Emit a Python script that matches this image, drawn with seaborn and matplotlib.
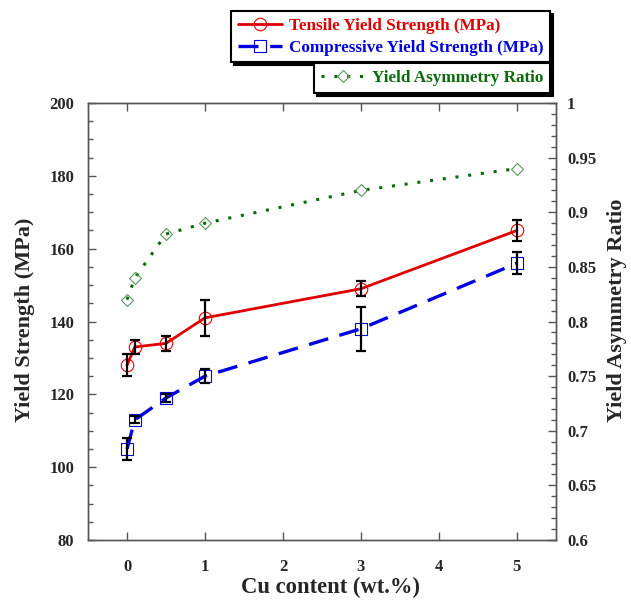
import numpy as np
import pandas as pd
import matplotlib
matplotlib.use("Agg")
import matplotlib.pyplot as plt
import seaborn as sns
from matplotlib.lines import Line2D
from matplotlib.ticker import MultipleLocator

cu = [0, 0.1, 0.5, 1, 3, 5]
tensile = [128, 133, 134, 141, 149, 165]
tensile_err = [3, 2, 2, 5, 2, 3]
compressive = [105, 113, 119, 125, 138, 156]
compressive_err = [3, 1, 1, 2, 6, 3]
ratio = [0.82, 0.84, 0.88, 0.89, 0.92, 0.94]

sns.set_theme(style="ticks")
plt.rcParams['font.family'] = ['Liberation Serif', 'DejaVu Serif']
plt.rcParams['font.weight'] = 'bold'

RED = '#e00000'
BLUE = '#0000e0'
GREEN = '#0a6a0a'
FRAME = '#555555'

fig = plt.figure(figsize=(6.31, 6.01), dpi=100)
ax = fig.add_axes([0.1395, 0.1015, 0.7415, 0.7271])
ax2 = ax.twinx()

df = pd.DataFrame({'cu': cu, 'tensile': tensile, 'compressive': compressive, 'ratio': ratio})

sns.lineplot(data=df, x='cu', y='tensile', ax=ax, color=RED, lw=2.0, marker='o',
             markersize=9, markerfacecolor='none', markeredgecolor=RED, markeredgewidth=0.8, zorder=3)
sns.lineplot(data=df, x='cu', y='compressive', ax=ax, color=BLUE, lw=2.4, marker='s',
             markersize=9, markerfacecolor='none', markeredgecolor=BLUE, markeredgewidth=0.8,
             zorder=3)
ax.lines[-1].set_dashes([6, 3.5])
ax.errorbar(cu, tensile, yerr=tensile_err, fmt='none', ecolor='black', elinewidth=1.6,
            capsize=3.5, capthick=1.6, zorder=4)
ax.errorbar(cu, compressive, yerr=compressive_err, fmt='none', ecolor='black', elinewidth=1.6,
            capsize=3.5, capthick=1.6, zorder=4)

sns.lineplot(data=df, x='cu', y='ratio', ax=ax2, color=GREEN, lw=2.2, marker='D',
             markersize=6, markerfacecolor='none', markeredgecolor='#5a965a', markeredgewidth=0.8)
ax2.lines[-1].set_dashes([1, 3.2])

ax.set_xlim(-0.5, 5.5)
ax.set_ylim(80, 200)
ax2.set_ylim(0.6, 1.0)
ax.set_xticks([0, 1, 2, 3, 4, 5])
ax.set_yticks(np.arange(80, 201, 20))
ax.yaxis.set_minor_locator(MultipleLocator(5))
ax2.set_yticks([0.6, 0.65, 0.7, 0.75, 0.8, 0.85, 0.9, 0.95, 1.0])
ax2.set_yticklabels(['0.6', '0.65', '0.7', '0.75', '0.8', '0.85', '0.9', '0.95', '1'])
ax2.yaxis.set_minor_locator(MultipleLocator(0.01))

ax.tick_params(axis='x', direction='in', top=True, bottom=True, length=6, width=1, color=FRAME,
               labelsize=12, pad=14)
ax.tick_params(axis='y', which='major', direction='in', left=True, right=False, length=6, width=1,
               color=FRAME, labelsize=12, pad=10)
ax.tick_params(axis='y', which='minor', direction='in', left=True, right=False, length=3.5, width=1,
               color=FRAME)
ax2.tick_params(axis='y', which='major', direction='in', right=True, length=6, width=1, color=FRAME,
                labelsize=12, pad=8)
ax2.tick_params(axis='y', which='minor', direction='in', right=True, length=3.5, width=1, color=FRAME)

for a in (ax, ax2):
    for s in a.spines.values():
        s.set_color(FRAME)
        s.set_linewidth(1.0)
    for lbl in a.get_xticklabels() + a.get_yticklabels():
        lbl.set_fontweight('bold')

ax.set_xlabel('Cu content (wt.%)', fontsize=16.3, fontweight='bold')
ax.set_ylabel('Yield Strength (MPa)', fontsize=16, fontweight='bold')
ax2.set_ylabel('Yield Asymmetry Ratio', fontsize=16, fontweight='bold')
ax.xaxis.set_label_coords(0.519, -0.085)
ax.yaxis.set_label_coords(-0.114, 0.503)
ax2.yaxis.set_label_coords(1.109, 0.526)

h1 = [Line2D([], [], color=RED, lw=2.0, marker='o', markersize=9, markerfacecolor='none',
             markeredgewidth=0.8),
      Line2D([], [], color=BLUE, lw=2.4, marker='s', markersize=9, markerfacecolor='none',
             markeredgewidth=0.8, dashes=[6, 3.5])]
leg1 = fig.legend(h1, ['Tensile Yield Strength (MPa)', 'Compressive Yield Strength (MPa)'],
                  loc='upper right', bbox_to_anchor=(0.872, 0.982), bbox_transform=fig.transFigure,
                  frameon=True, fancybox=False, edgecolor='black', framealpha=1,
                  shadow={'facecolor': 'black', 'edgecolor': 'black', 'alpha': 1},
                  prop={'size': 12.3, 'weight': 'bold'}, handlelength=2.6, handletextpad=0.4,
                  borderpad=0.4, labelspacing=0.35, borderaxespad=0)
for t, c in zip(leg1.get_texts(), [RED, BLUE]):
    t.set_color(c)
leg1.get_frame().set_linewidth(1.5)

h2 = [Line2D([], [], color=GREEN, lw=2.2, marker='D', markersize=6, markerfacecolor='none',
             markeredgecolor='#5a965a', markeredgewidth=0.8, dashes=[1, 3.2])]
leg2 = fig.legend(h2, ['Yield Asymmetry Ratio'], loc='upper right', bbox_to_anchor=(0.872, 0.895),
                  bbox_transform=fig.transFigure, frameon=True, fancybox=False, edgecolor='black',
                  framealpha=1, shadow={'facecolor': 'black', 'edgecolor': 'black', 'alpha': 1},
                  prop={'size': 12.3, 'weight': 'bold'}, handlelength=2.6, handletextpad=0.4,
                  borderpad=0.4, borderaxespad=0)
leg2.get_texts()[0].set_color(GREEN)
leg2.get_frame().set_linewidth(1.5)

fig.savefig('out.png', dpi=100)
